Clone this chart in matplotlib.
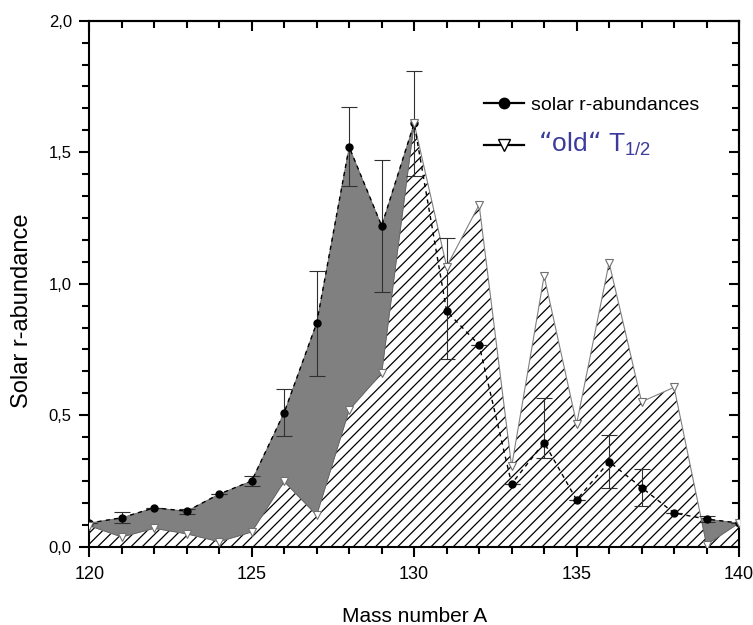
import matplotlib
matplotlib.use("Agg")
import matplotlib.pyplot as plt
import numpy as np
from matplotlib.lines import Line2D
from matplotlib.ticker import MultipleLocator, FuncFormatter

# mass numbers
mass_a = [120, 121, 122, 123, 124, 125, 126, 127, 128, 129, 130,
          131, 132, 133, 134, 135, 136, 137, 138, 139, 140]

# solar r-abundances (black dots)
solar = [0.09, 0.11, 0.148, 0.135, 0.20, 0.25, 0.51, 0.85, 1.52, 1.22, 1.61,
         0.895, 0.767, 0.239, 0.396, 0.178, 0.323, 0.225, 0.128, 0.105, 0.09]
# error bars (lower / upper extent)
err_lo = [0.0, 0.02, 0.0, 0.01, 0.0, 0.02, 0.09, 0.20, 0.15, 0.25, 0.20,
          0.18, 0.0, 0.0, 0.06, 0.0, 0.10, 0.07, 0.0, 0.01, 0.0]
err_hi = [0.0, 0.02, 0.0, 0.01, 0.0, 0.02, 0.09, 0.20, 0.15, 0.25, 0.20,
          0.28, 0.0, 0.0, 0.17, 0.0, 0.10, 0.07, 0.0, 0.01, 0.0]

# "old" half-lives calculation (open triangles)
old_t12 = [0.08, 0.037, 0.07, 0.049, 0.019, 0.056, 0.248, 0.12, 0.52, 0.66, 1.61,
           1.065, 1.30, 0.305, 1.03, 0.467, 1.08, 0.551, 0.606, 0.008, 0.09]

x_ticks = [120, 125, 130, 135, 140]

plt.rcParams['font.family'] = ['Liberation Sans', 'DejaVu Sans']
plt.rcParams['mathtext.default'] = 'regular'
plt.rcParams['hatch.linewidth'] = 0.9

a = np.array(mass_a, dtype=float)
s = np.array(solar)
o = np.array(old_t12)

fig = plt.figure(figsize=(7.53, 6.25), dpi=100)
ax = fig.add_axes([0.1185, 0.1253, 0.8630, 0.8416])

# hatched area under the "old" curve
ax.fill_between(a, 0, o, facecolor='white', edgecolor='black', hatch='///',
                linewidth=0, zorder=1)
ax.plot(a, o, color='#808080', lw=0.8, zorder=2)

# gray area where solar exceeds the calculation
ax.fill_between(a, o, s, where=s >= o, interpolate=True, facecolor='#808080',
                edgecolor='#606060', linewidth=0.5, zorder=3)

ax.errorbar(a, s, yerr=[err_lo, err_hi], fmt='none', ecolor='#303030',
            elinewidth=0.8, capsize=6, capthick=0.8, zorder=4)
ax.plot(a, s, color='black', lw=1.0, ls=(0, (3, 3)), zorder=5)
ax.plot(a, s, 'o', color='black', ms=5, zorder=6)
ax.plot(a, o, 'v', mfc='white', mec='#707070', mew=0.8, ms=6, zorder=6)

ax.set_xlim(120, 140)
ax.set_ylim(0, 2.0)
ax.set_xticks(x_ticks)
ax.xaxis.set_minor_locator(MultipleLocator(1))
ax.yaxis.set_major_locator(MultipleLocator(0.5))
ax.yaxis.set_minor_locator(MultipleLocator(0.5 / 6))
ax.yaxis.set_major_formatter(FuncFormatter(lambda v, p: f'{v:.1f}'.replace('.', ',')))

# bottom / left ticks point outwards, top / right point inwards
ax.tick_params(which='both', direction='out', width=1.5)
ax.tick_params(which='major', length=7.5)
ax.tick_params(which='minor', length=4.7)
ax.tick_params(axis='x', labelsize=13, pad=6.5)
ax.tick_params(axis='y', labelsize=12, pad=5)

top = ax.secondary_xaxis('top')
top.set_xticks(x_ticks)
top.xaxis.set_minor_locator(MultipleLocator(1))
top.tick_params(which='both', direction='in', labeltop=False, width=1.5)
top.tick_params(which='major', length=7.5)
top.tick_params(which='minor', length=4.7)
right = ax.secondary_yaxis('right')
right.yaxis.set_major_locator(MultipleLocator(0.5))
right.yaxis.set_minor_locator(MultipleLocator(0.5 / 6))
right.tick_params(which='both', direction='in', labelright=False, width=1.5)
right.tick_params(which='major', length=7.5)
right.tick_params(which='minor', length=4.7)

for sp in list(ax.spines.values()) + list(top.spines.values()) + list(right.spines.values()):
    sp.set_linewidth(1.5)

ax.set_xlabel('Mass number A', fontsize=15, va='top')
ax.xaxis.set_label_coords(0.5, -0.114)
ax.set_ylabel('Solar r-abundance', fontsize=17)
ax.yaxis.set_label_coords(-0.087, 0.448)

handles = [
    Line2D([], [], color='black', lw=1.6, marker='o', ms=7.5),
    Line2D([], [], color='black', lw=1.6, marker='v', ms=9, mfc='white', mec='black'),
]
leg = ax.legend(handles, ['solar r-abundances', ' \u201cold\u201c T$_{1/2}$'],
                loc='upper left', bbox_to_anchor=(0.58, 0.89), frameon=False,
                handlelength=2.1, handletextpad=0.35, labelspacing=0.85, fontsize=14)
leg.get_texts()[1].set_fontsize(19)
leg.get_texts()[1].set_color('#3b3b9b')

fig.savefig('out.png', dpi=100)
